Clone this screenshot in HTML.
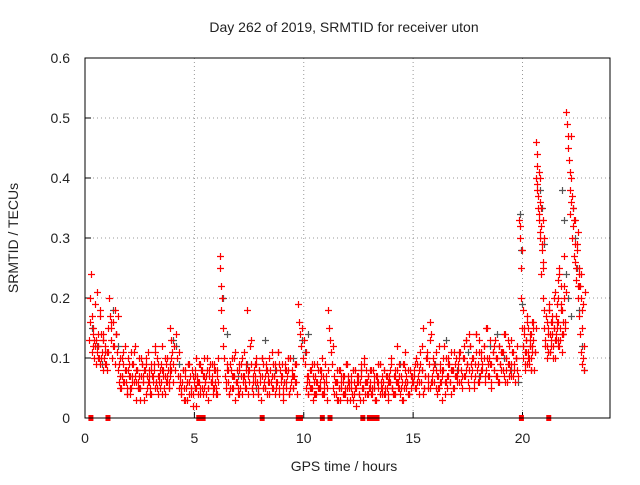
<!DOCTYPE html>
<html><head><meta charset="utf-8"><style>
body{margin:0;background:#fff;width:640px;height:480px;overflow:hidden}
svg text{font-family:"Liberation Sans",sans-serif;fill:#222}
</style></head><body>
<svg id="chart" width="640" height="480" xmlns="http://www.w3.org/2000/svg">
<text x="344" y="32" font-size="14" text-anchor="middle">Day 262 of 2019, SRMTID for receiver uton</text>
<text x="344" y="471" font-size="14" text-anchor="middle">GPS time / hours</text>
<text transform="translate(18,238) rotate(-90)" font-size="14" text-anchor="middle">SRMTID / TECUs</text>
<g id="grid"></g><g id="ticks"></g><g id="grey"></g><g id="red"></g>
<rect x="85" y="58" width="525" height="360" fill="none" stroke="#000" stroke-width="1"/>
</svg>
<script>
const xTicks=[0,5,10,15,20];
const yTicks=[0,0.1,0.2,0.3,0.4,0.5,0.6];
const yTickLabels=["0","0.1","0.2","0.3","0.4","0.5","0.6"];
const zeroMarks=[0.27,1.05,5.2,5.3,5.4,8.1,9.75,9.85,10.85,11.2,12.7,13.0,13.1,13.2,13.35,19.95,21.2];
const redSegStart=[0.2,0.6,1.1,1.5,3.9,4.3,6.15,6.4,9.75,10.1,11.1,11.35,15,17,19.85,20.0,20.6,21.0,21.6,22.0,22.15,22.6];
const redSegEnd=[0.6,1.05,1.5,4.0,4.3,6.1,6.35,9.7,10.1,11.1,11.35,15,17,19.8,20.0,20.6,21.0,21.6,22.0,22.15,22.6,22.85];
const redSegValues=[
[13,20,24,17,12,15,10,19,13,11,21,14],
[12,10,9,14,11,13,8,10,12,9,11,15],
[20,17,15,13,10,16,12,9,18,14,11,17],
[8,6,10,5,7,9,12,6,4,8,7,5,11,6,9,7,3,8,6,10,5,7,9,6,8,4,7,11,6,5,8,7,9,5,6,10,4,7,8,6,12,5,7,9,6,8,5,7,10,6],
[15,13,11,9,12,8,14,10,7,11],
[5,7,4,6,3,8,5,6,9,4,7,5,2,6,8,5,7,4,6,9,5,7,10,6,4,8,5,7,6,9,5,8,6,4,7,10],
[27,25,22,18,20,15,12,10],
[7,5,9,6,4,8,10,5,7,3,6,8,5,9,7,4,6,11,5,8,18,7,6,9,5,4,8,7,10,6,5,8,3,7,9,6,5,8,4,7,10,6,5,9,7,4,8,6,11,5,7,9,3,6,8,5,7,10,4,6,8,5,7,9,6,4],
[19,16,14,12,15,10,13,9,11],
[5,7,4,6,8,5,3,6,7,4,9,5,6,8,4,7,5,6,3,8],
[18,15,13,11,9,12],
[5,7,4,6,3,5,8,6,4,7,5,9,3,6,5,7,4,8,6,5,2,7,4,6,9,5,3,6,8,4,7,5,6,4,8,5,3,7,6,9,4,5,7,6,8,4,5,3,7,6,9,5,4,8,6,12,5,7,4,6,9,5,11,7,6,4,8,5,7,6],
[6,8,5,10,7,4,9,6,8,15,5,7,11,6,9,5,14,7,10,6,8,4,7,5,9,6,3,8,6,10,5,7,9,6,11,8,5,7,10,6],
[7,9,6,11,8,5,10,7,13,9,6,8,12,7,10,5,9,14,8,6,11,7,10,9,12,6,8,15,7,10,9,5,11,8,13,7,10,6,12,9,8,11,7,14,10,6,9,12,8,7,11,9,6,10,8,7],
[33,30,32,25,20,28,15,18],
[12,10,15,8,13,17,11,9,14,12,10,16,13,8,11,15],
[46,40,42,38,35,41,33,30,36,24,32,28,25,20,30,18],
[15,12,17,10,14,18,11,13,16,12,15,10,14,19,13],
[20,16,25,13,22,18,14,27,15,21],
[51,49,47,45,43,41],
[38,34,36,30,32,27,33,25,29,22,31,24],
[25,22,20,24,15,18,10,8,12,21]];
// additional dense layers of red observations
const redLayerStart=[0.25,1.55,4.35,6.45,10.15,11.4,15.05,17.05,20.05,20.65,21.05,22.2,0.35,1.6,4.4,6.5,10.2,11.45,15.1,17.1,20.1,21.1];
const redLayerEnd=[1.0,3.95,6.1,9.65,11.05,14.95,16.95,19.75,20.55,20.95,21.95,22.75,1.4,3.9,6.05,9.6,11.0,14.9,16.9,19.7,20.5,21.9];
const redLayerValues=[
[16,11,13,9,12,18,10,14,11,8],
[9,5,7,11,6,8,4,10,7,5,9,6,12,8,5,7,3,9,6,8,10,5,7,4,9,6,8,11,5,7,6,9,4,8,10,6,7,5,9,8],
[6,4,8,5,7,3,9,6,5,8,4,7,2,6,9,5,8,4,7,6,10,5,8,6,7,4,9,5,8,6],
[6,8,4,9,5,7,11,6,4,8,5,10,7,6,9,4,8,12,5,7,6,9,4,8,6,10,5,7,9,6,4,8,7,5,9,6,11,4,8,7,5,9,6,8,4,10,7,5,6,9],
[6,4,8,5,7,9,4,6,5,8,7,4,6,9,5],
[4,6,8,5,3,7,6,4,9,5,7,3,6,8,4,5,7,6,3,8,5,9,4,6,7,5,8,4,6,3,7,5,9,6,4,8,5,7,4,6,10,5,7,4,8,6,5,7,3,9,6,5,8,4,7,6],
[7,5,9,6,11,8,4,7,10,5,13,6,8,9,5,7,12,6,8,10,4,7,9,6,8,5,11,7],
[8,11,6,10,7,13,9,5,12,8,10,7,14,9,6,11,8,12,7,10,9,13,6,11,8,10,7,12,9,11,8,6,10,13,7,9,11,8,10,12],
[14,9,11,16,10,13,8,12,15,11],
[44,39,37,34,40,31,35,29,26,33],
[13,16,11,19,14,12,17,10,15,21,13,16,12,24,15,18,11,14,20,16],
[47,40,37,35,33,29,26,23,28,20,17,22,14,11,9,19],
[14,12,10,17,13,9,11,16,12,14],
[7,10,6,8,5,9,4,7,11,6,8,5,10,7,3,9,6,8,4,7,12,6,9,5,8,7,4,10,6,8],
[5,8,3,6,9,4,7,5,10,6,4,8,5,7,3,9,6,5,8,4],
[8,5,7,10,6,4,9,7,5,8,13,6,9,4,7,10,5,8,6,11,7,5,9,6,4,8,10,5,7,9],
[7,5,9,4,6,8,5,10,4,7],
[6,3,8,5,7,4,9,6,5,3,8,6,4,7,5,10,6,4,8,5,7,3,6,9,5,4,7,6,8,5,4,7,6,9,5,3,8,6,4,7],
[9,6,8,12,5,10,7,16,6,9,11,5,8,7,12,6,10,4,8,9],
[10,7,12,8,14,9,6,11,13,8,10,15,7,9,12,10,6,11,14,8,9,13,7,10],
[11,13,9,15,10,12,14,8,11,16],
[12,15,18,11,16,14,20,13,17,15,23,12,19,14,16,22]];
const greySegStart=[0.3,1.3,4.0,6.3,7.0,9.9,12,16,18.5,19.9,20.8,21.8,22.3];
const greySegEnd=[1.0,1.5,4.3,6.5,9.5,10.2,15,18,19.8,20.0,21.0,22.2,22.8];
const greySegValues=[
[15,12,9,11],[18,14,12],[13,12,9],[20,14],[7,9,5,13,8,6,10],[13,11,14],[6,8,5,7,9,6],[9,13,8,11,7],[12,14,10,8,6],[34,28,19,12],[38,35,29],[38,33,24,20,17],[35,30,25,18,12,8]];

const NS="http://www.w3.org/2000/svg";
const X=t=>85+t*21.875, Y=v=>418-v*600;
function mk(tag,attrs,parent){const e=document.createElementNS(NS,tag);for(const k in attrs)e.setAttribute(k,attrs[k]);parent.appendChild(e);return e;}
const grid=document.getElementById('grid'),ticks=document.getElementById('ticks');
yTicks.forEach((v,i)=>{
  if(v>0&&v<0.6){const l=mk('line',{x1:85,x2:610,y1:Y(v),y2:Y(v),stroke:'#999','stroke-dasharray':'1,3'},grid);
  
  }
  const tl=mk('line',{x1:85,x2:91,y1:Y(v),y2:Y(v),stroke:'#000'},ticks);
  
  
  const t=mk('text',{x:70,y:Y(v)+5,'font-size':14,'text-anchor':'end'},ticks);t.textContent=yTickLabels[i];
  
  
});
xTicks.forEach(v=>{
  if(v>0){const l=mk('line',{x1:X(v),x2:X(v),y1:58,y2:418,stroke:'#999','stroke-dasharray':'1,3'},grid);
  
  }
  const tl=mk('line',{x1:X(v),x2:X(v),y1:418,y2:412,stroke:'#000'},ticks);
  
  
  const t=mk('text',{x:X(v),y:443,'font-size':14,'text-anchor':'middle'},ticks);t.textContent=String(v);
  
  
});
function plus(g,t,v,color){
  const x=Math.round(X(t))+0.5,y=Math.round(Y(v))+0.5;
  const p=mk('path',{d:`M${x-3.5} ${y}H${x+3.5}M${x} ${y-3.5}V${y+3.5}`,stroke:color,'stroke-width':1.2,fill:'none'},g);
  
  
}
function drawSegs(g,starts,ends,vals,color){
  starts.forEach((s,i)=>{const arr=vals[i],n=arr.length;
    arr.forEach((v,j)=>plus(g,s+(ends[i]-s)*(n>1?j/(n-1):0),v/100,color));});
}
drawSegs(document.getElementById('grey'),greySegStart,greySegEnd,greySegValues,'#555');
const red=document.getElementById('red');
drawSegs(red,redSegStart,redSegEnd,redSegValues,'#f00');
drawSegs(red,redLayerStart,redLayerEnd,redLayerValues,'#f00');
zeroMarks.forEach(t=>{
  const r=mk('rect',{x:X(t)-2.5,y:415,width:5,height:6,fill:'#f00'},red);
  
  
});
</script>
</body></html>
